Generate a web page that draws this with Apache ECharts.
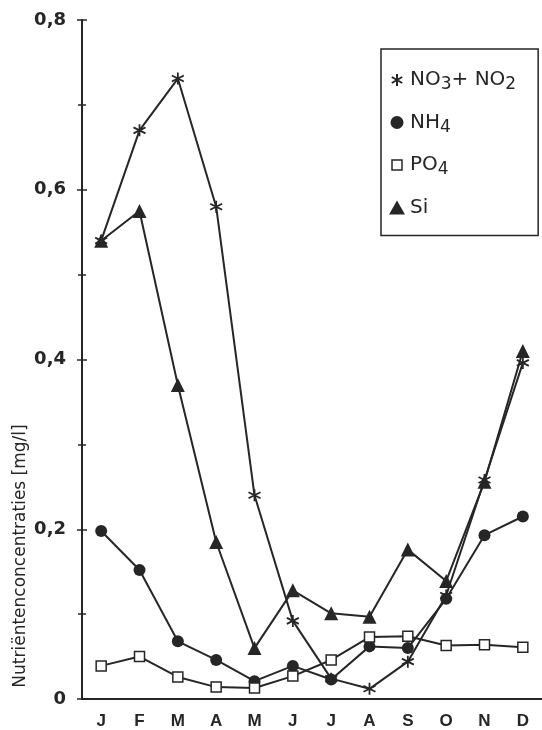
<!DOCTYPE html>
<html>
<head>
<meta charset="utf-8">
<script src="https://cdn.jsdelivr.net/npm/echarts@6/dist/echarts.min.js"></script>
<style>html,body{margin:0;padding:0;background:#fff;}#c{width:542px;height:730px;}</style>
</head>
<body>
<div id="c"></div>
<script>
const months = ['J','F','M','A','M','J','J','A','S','O','N','D'];
const no3no2 = [0.540, 0.670, 0.731, 0.580, 0.240, 0.092, 0.024, 0.012, 0.044, 0.122, 0.258, 0.396];
const nh4    = [0.198, 0.152, 0.068, 0.046, 0.021, 0.039, 0.023, 0.062, 0.060, 0.118, 0.193, 0.215];
const po4    = [0.039, 0.050, 0.026, 0.014, 0.013, 0.027, 0.046, 0.073, 0.074, 0.063, 0.064, 0.061];
const si     = [0.540, 0.575, 0.370, 0.185, 0.060, 0.128, 0.101, 0.097, 0.176, 0.139, 0.256, 0.410];
const yTicks = ['0', '0,2', '0,4', '0,6', '0,8'];
const seriesNames = ['NO3+ NO2', 'NH4', 'PO4', 'Si'];

const ink = '#262626';
const asterisk = 'path://M5,0L5,10M0.67,2.5L9.33,7.5M0.67,7.5L9.33,2.5';
const legendAsterisk = 'path://M0,0M16,16M8,2L8,14M2.8,5L13.2,11M2.8,11L13.2,5';
const legendCircle = 'path://M0,0M16,16M8,1.5A6.5,6.5,0,1,1,7.99,1.5Z';
const legendSquare = 'path://M0,0M16,16M3,3L13,3L13,13L3,13Z';
const legendTri = 'path://M0,0M16,16M8,1L16,15L0,15Z';

const richNames = {
  'NO3+ NO2': 'NO{s|3}+ NO{s|2}',
  'NH4': 'NH{s|4}',
  'PO4': 'PO{s|4}',
  'Si': 'Si'
};

const chart = echarts.init(document.getElementById('c'), null, {renderer: 'canvas'});
const yAxisBase = {
  type: 'value', min: 0, max: 0.8, interval: 0.2, position: 'left',
  splitLine: {show: false},
  axisLine: {show: true, lineStyle: {color: ink, width: 2}}
};
chart.setOption({
  backgroundColor: '#ffffff',
  animation: false,
  grid: {left: 82, right: -10, top: 20, bottom: 30, containLabel: false},
  xAxis: {
    type: 'category', data: months, boundaryGap: true,
    axisLine: {lineStyle: {color: ink, width: 2}},
    axisTick: {alignWithLabel: true, length: 10, lineStyle: {color: ink, width: 2}},
    axisLabel: {interval: 0, color: ink, fontFamily: 'Liberation Sans', fontWeight: 'bold', fontSize: 17, margin: 14}
  },
  yAxis: [
    Object.assign({}, yAxisBase, {
      axisTick: {show: true, length: 5, lineStyle: {color: ink, width: 1.5}},
      minorTick: {show: true, splitNumber: 2, length: 4, lineStyle: {color: ink, width: 1.5}},
      axisLabel: {
        color: ink, fontFamily: 'DejaVu Sans', fontWeight: 'bold', fontSize: 18, margin: 16,
        formatter: function (v) { return yTicks[Math.round(v / 0.2)]; }
      }
    }),
    Object.assign({}, yAxisBase, {
      axisTick: {show: true, inside: true, length: 5, lineStyle: {color: ink, width: 1.5}},
      minorTick: {show: true, splitNumber: 2, length: 4, lineStyle: {color: ink, width: 1.5}},
      axisLabel: {show: false}
    })
  ],
  legend: {
    orient: 'vertical', left: 381, top: 49,
    padding: [21, 22, 18, 7], itemGap: 19, itemWidth: 16, itemHeight: 16,
    borderColor: ink, borderWidth: 1.5, borderRadius: 0,
    selectedMode: false,
    data: [
      {name: seriesNames[0], icon: legendAsterisk, itemStyle: {color: ink, borderColor: ink, borderWidth: 2}},
      {name: seriesNames[1], icon: legendCircle, itemStyle: {color: ink, borderWidth: 0}},
      {name: seriesNames[2], icon: legendSquare, itemStyle: {color: '#fff', borderColor: ink, borderWidth: 1.5}},
      {name: seriesNames[3], icon: legendTri, itemStyle: {color: ink, borderWidth: 0}}
    ],
    formatter: function (n) { return richNames[n]; },
    textStyle: {
      color: ink, fontFamily: 'DejaVu Sans', fontSize: 20,
      rich: {s: {fontFamily: 'DejaVu Sans', fontSize: 17, color: ink, padding: [10, 0, 0, 0]}}
    }
  },
  graphic: [{
    type: 'text', x: 21, y: 556, rotation: Math.PI / 2,
    style: {text: 'Nutriëntenconcentraties [mg/l]', fill: ink, font: '17px "DejaVu Sans"', align: 'center', verticalAlign: 'middle'}
  }],
  series: [
    {name: seriesNames[0], type: 'line', data: no3no2, symbol: asterisk, symbolSize: 12,
     lineStyle: {color: ink, width: 2}, itemStyle: {color: ink, borderColor: ink, borderWidth: 1.8}},
    {name: seriesNames[1], type: 'line', data: nh4, symbol: 'circle', symbolSize: 12,
     lineStyle: {color: ink, width: 2}, itemStyle: {color: ink, borderWidth: 0}},
    {name: seriesNames[2], type: 'line', data: po4, symbol: 'rect', symbolSize: 10,
     lineStyle: {color: ink, width: 2}, itemStyle: {color: '#fff', borderColor: ink, borderWidth: 1.5}},
    {name: seriesNames[3], type: 'line', data: si, symbol: 'triangle', symbolSize: 14,
     lineStyle: {color: ink, width: 2}, itemStyle: {color: ink, borderWidth: 0}}
  ]
});
</script>
</body>
</html>
